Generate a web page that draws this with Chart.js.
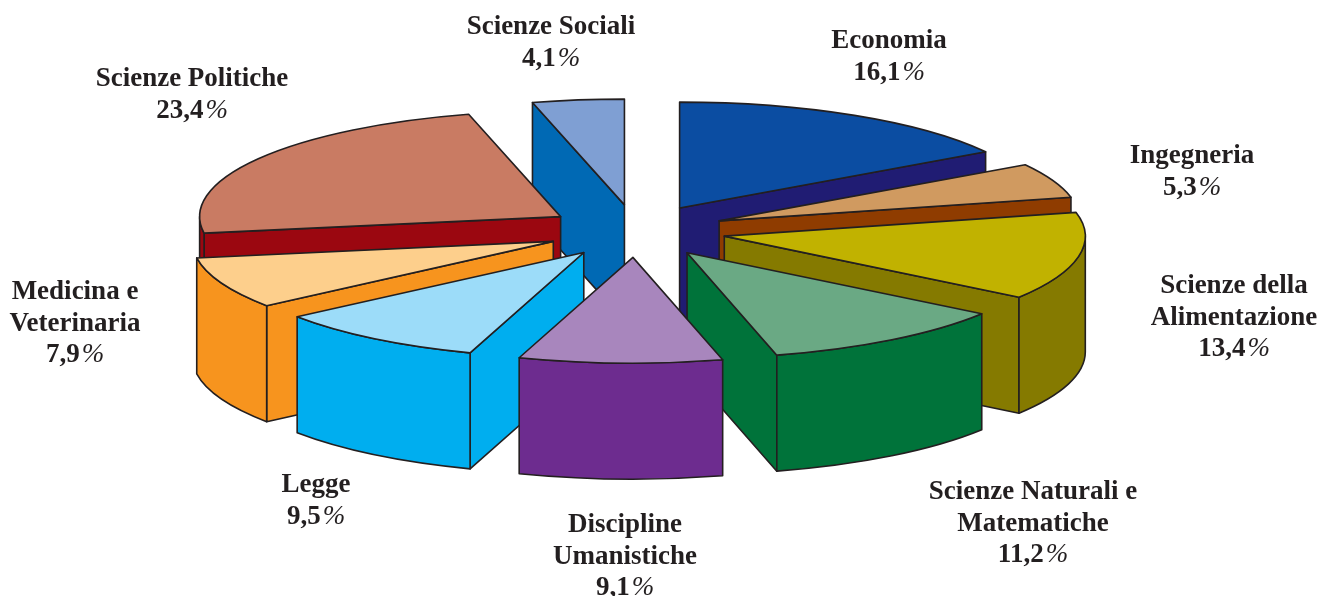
<!DOCTYPE html>
<html>
<head>
<meta charset="utf-8">
<title>Iscritti per area disciplinare</title>
<script src="https://cdn.jsdelivr.net/npm/chart.js@4"></script>
<style>
  html, body { margin: 0; background: #fff; overflow: hidden; }
  canvas { display: block; }
</style>
</head>
<body>
<canvas id="pie" width="1319" height="596"></canvas>
<script>
const categories = ["Economia", "Ingegneria", "Scienze della Alimentazione", "Scienze Naturali e Matematiche",
  "Discipline Umanistiche", "Legge", "Medicina e Veterinaria", "Scienze Politiche", "Scienze Sociali"];
const values = [16.1, 5.3, 13.4, 11.2, 9.1, 9.5, 7.9, 23.4, 4.1];

const topColors = ["#0b4da2", "#d09a60", "#c1b200", "#6aa984", "#a886bd", "#9cdcf9", "#fdcf8c", "#c97b63", "#7f9fd3"];
const wallColors = ["#201c73", "#8f3c00", "#857a00", "#00733a", "#6d2c8f", "#00aeef", "#f7941e", "#9b0710", "#0069b4"];

// label layout: centre x, y of first line, and how the names wrap
const labelLines = [["Economia"], ["Ingegneria"], ["Scienze della", "Alimentazione"], ["Scienze Naturali e", "Matematiche"],
  ["Discipline", "Umanistiche"], ["Legge"], ["Medicina e", "Veterinaria"], ["Scienze Politiche"], ["Scienze Sociali"]];
const labelX = [889, 1192, 1234, 1033, 625, 316, 75, 192, 551];
const labelY = [41, 156, 286, 492, 525, 485, 292, 79, 27];
const lineHeight = 31.7;

const squash = 0.293;   // flatten factor of the disc
const explode = 90;     // slice pull-out, before squashing
const depth = 116;      // height of the walls
const edge = "#231f20";

function facePath(ctx, x, y, r, a0, a1) {
  ctx.beginPath();
  ctx.moveTo(x, y);
  ctx.ellipse(x, y, r, r * squash, 0, a0, a1);
  ctx.closePath();
}

function wallQuad(ctx, x, y, r, a) {
  const px = x + Math.cos(a) * r, py = y + Math.sin(a) * r * squash;
  ctx.beginPath();
  ctx.moveTo(x, y);
  ctx.lineTo(px, py);
  ctx.lineTo(px, py + depth);
  ctx.lineTo(x, y + depth);
  ctx.closePath();
  ctx.fill();
  ctx.stroke();
}

const pie3d = {
  id: "pie3d",
  beforeDatasetsDraw(chart) {
    const ctx = chart.ctx;
    const arcs = chart.getDatasetMeta(0).data;
    const mid = (a) => (a.startAngle + a.endAngle) / 2;
    // back slices first, so the front ones cover their walls
    const order = arcs.map((a, i) => i).sort((i, j) => Math.sin(mid(arcs[i])) - Math.sin(mid(arcs[j])));

    order.forEach((i) => {
      const arc = arcs[i];
      const r = arc.outerRadius;
      const x = arc.x + Math.cos(mid(arc)) * explode;
      const y = arc.y + Math.sin(mid(arc)) * explode * squash;

      ctx.save();
      ctx.lineWidth = 1.6;
      ctx.lineJoin = "round";
      ctx.strokeStyle = edge;
      ctx.fillStyle = wallColors[i];
      // only the cut faces turned to the viewer
      if (Math.cos(arc.startAngle) < 0) wallQuad(ctx, x, y, r, arc.startAngle);
      if (Math.cos(arc.endAngle) > 0) wallQuad(ctx, x, y, r, arc.endAngle);

      // outer rim, only the part turned to the viewer
      const lo = Math.max(arc.startAngle, 0), hi = Math.min(arc.endAngle, Math.PI);
      if (hi > lo) {
        ctx.beginPath();
        ctx.ellipse(x, y, r, r * squash, 0, lo, hi);
        ctx.ellipse(x, y + depth, r, r * squash, 0, hi, lo, true);
        ctx.closePath();
        ctx.fill();
        ctx.stroke();
      }

      // top face is the library's own arc, flattened
      ctx.save();
      ctx.translate(x, y);
      ctx.scale(1, squash);
      ctx.translate(-arc.x, -arc.y);
      arc.draw(ctx);
      ctx.restore();

      facePath(ctx, x, y, r, arc.startAngle, arc.endAngle);
      ctx.stroke();
      ctx.restore();
    });
    return false;
  },
  afterDraw(chart) {
    const ctx = chart.ctx;
    ctx.save();
    ctx.fillStyle = edge;
    ctx.textBaseline = "middle";
    labelLines.forEach((lines, i) => {
      ctx.font = "bold 27px 'Liberation Serif'";
      ctx.textAlign = "center";
      lines.forEach((t, n) => ctx.fillText(t, labelX[i], labelY[i] + n * lineHeight));
      const y = labelY[i] + lines.length * lineHeight;
      const num = values[i].toFixed(1).replace(".", ",");
      const numW = ctx.measureText(num).width;
      ctx.font = "italic 27px 'Liberation Serif'";
      const pctW = ctx.measureText("%").width + 2;
      const left = labelX[i] - (numW + pctW) / 2;
      ctx.textAlign = "left";
      ctx.fillText("%", left + numW + 2, y);
      ctx.font = "bold 27px 'Liberation Serif'";
      ctx.fillText(num, left, y);
    });
    ctx.restore();
  }
};

new Chart(document.getElementById("pie"), {
  type: "pie",
  data: {
    labels: categories,
    datasets: [{ data: values, backgroundColor: topColors, borderWidth: 0 }]
  },
  options: {
    responsive: false,
    animation: false,
    radius: 361,
    layout: { padding: { right: 47, bottom: 134 } },
    plugins: { legend: { display: false }, tooltip: { enabled: false } }
  },
  plugins: [pie3d]
});
</script>
</body>
</html>
